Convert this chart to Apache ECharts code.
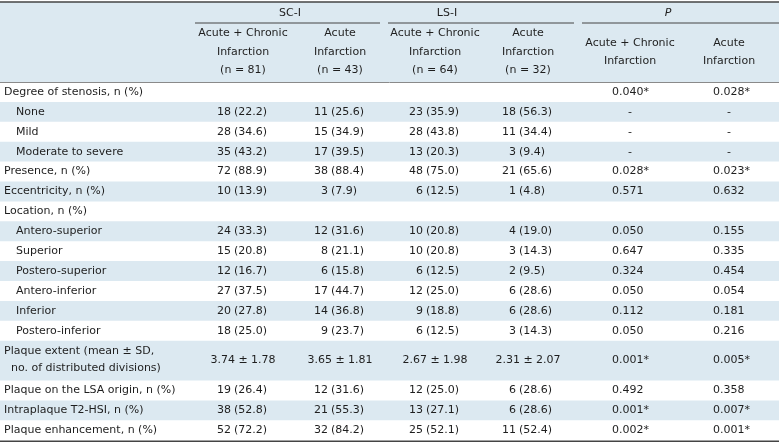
<!DOCTYPE html>
<html><head><meta charset="utf-8">
<script src="https://cdn.jsdelivr.net/npm/echarts@6/dist/echarts.min.js"></script>
<style>html,body{margin:0;padding:0;background:#fff}#c{width:779px;height:445px}</style>
</head><body><div id="c"></div><script>
// ---- table content ----
const groupLabels = ['SC-I', 'LS-I', 'P'];
const subHeaders = [
  ['Acute + Chronic', 'Infarction', '(n = 81)'],
  ['Acute', 'Infarction', '(n = 43)'],
  ['Acute + Chronic', 'Infarction', '(n = 64)'],
  ['Acute', 'Infarction', '(n = 32)'],
  ['Acute + Chronic', 'Infarction'],
  ['Acute', 'Infarction']
];
const rowLabels = [
  'Degree of stenosis, n (%)', 'None', 'Mild', 'Moderate to severe',
  'Presence, n (%)', 'Eccentricity, n (%)', 'Location, n (%)',
  'Antero-superior', 'Superior', 'Postero-superior', 'Antero-inferior', 'Inferior', 'Postero-inferior',
  'Plaque extent (mean \u00b1 SD,\nno. of distributed divisions)',
  'Plaque on the LSA origin, n (%)', 'Intraplaque T2-HSI, n (%)', 'Plaque enhancement, n (%)'
];
const rowIsSub = [0,1,1,1,0,0,0,1,1,1,1,1,1,0,0,0,0];
const rowSpan  = [1,1,1,1,1,1,1,1,1,1,1,1,1,2,1,1,1];
const scAcuteChronic = ['', '18 (22.2)', '28 (34.6)', '35 (43.2)', '72 (88.9)', '10 (13.9)', '', '24 (33.3)', '15 (20.8)', '12 (16.7)', '27 (37.5)', '20 (27.8)', '18 (25.0)', '3.74 \u00b1 1.78', '19 (26.4)', '38 (52.8)', '52 (72.2)'];
const scAcute        = ['', '11 (25.6)', '15 (34.9)', '17 (39.5)', '38 (88.4)', '3 (7.9)', '', '12 (31.6)', '8 (21.1)', '6 (15.8)', '17 (44.7)', '14 (36.8)', '9 (23.7)', '3.65 \u00b1 1.81', '12 (31.6)', '21 (55.3)', '32 (84.2)'];
const lsAcuteChronic = ['', '23 (35.9)', '28 (43.8)', '13 (20.3)', '48 (75.0)', '6 (12.5)', '', '10 (20.8)', '10 (20.8)', '6 (12.5)', '12 (25.0)', '9 (18.8)', '6 (12.5)', '2.67 \u00b1 1.98', '12 (25.0)', '13 (27.1)', '25 (52.1)'];
const lsAcute        = ['', '18 (56.3)', '11 (34.4)', '3 (9.4)', '21 (65.6)', '1 (4.8)', '', '4 (19.0)', '3 (14.3)', '2 (9.5)', '6 (28.6)', '6 (28.6)', '3 (14.3)', '2.31 \u00b1 2.07', '6 (28.6)', '6 (28.6)', '11 (52.4)'];
const pAcuteChronic  = ['0.040*', '-', '-', '-', '0.028*', '0.571', '', '0.050', '0.647', '0.324', '0.050', '0.112', '0.050', '0.001*', '0.492', '0.001*', '0.002*'];
const pAcute         = ['0.028*', '-', '-', '-', '0.023*', '0.632', '', '0.155', '0.335', '0.454', '0.054', '0.181', '0.216', '0.005*', '0.358', '0.007*', '0.001*'];

// ---- layout / style ----
const W = 779, H = 445;
const FONT_FAMILY = 'DejaVu Sans';
const FS = 11;
const FONT = FS + 'px "' + FONT_FAMILY + '"';
const TXT = '#1e1e1e';
const BAND = '#dce9f1';
const colCenters = [243, 340, 435, 528, 630, 729];
const pLeft = [612, 713];
const groupLineSpans = [[195, 380], [388, 574], [582, 779]];
const groupLabelX = [290, 447, 668];
const BODY_TOP = 82, ROW_H = 19.9;

const valueCols = [scAcuteChronic, scAcute, lsAcuteChronic, lsAcute];
const pCols = [pAcuteChronic, pAcute];

const starts = [];
let acc = 0;
rowSpan.forEach(s => { starts.push(acc); acc += s; });
const totalUnits = acc;

function txt(x, y, text, align, font) {
  return {
    type: 'text',
    style: {
      x: x, y: y, text: text, fill: TXT, font: font || FONT,
      align: align || 'left', textAlign: align || 'left',
      verticalAlign: 'middle', textVerticalAlign: 'middle'
    },
    silent: true
  };
}

function renderItem(params, api) {
  const s = api.value(0), sp = api.value(1), i = api.value(2);
  const p0 = api.coord([0, s]);
  const p1 = api.coord([W, s + sp]);
  const yMid = (p0[1] + p1[1]) / 2;
  const children = [];
  if (i % 2 === 1) {
    children.push({ type: 'rect', shape: { x: p0[0], y: p0[1], width: p1[0] - p0[0], height: p1[1] - p0[1] }, style: { fill: BAND }, silent: true });
  }
  const lines = rowLabels[i].split('\n');
  if (lines.length === 1) {
    children.push(txt(rowIsSub[i] ? 16 : 4, yMid, lines[0], 'left'));
  } else {
    children.push(txt(4, yMid - 9, lines[0], 'left'));
    children.push(txt(11, yMid + 8, lines[1], 'left'));
  }
  valueCols.forEach((col, c) => {
    const v = col[i];
    if (!v) return;
    const cx = colCenters[c];
    const m = v.match(/^(\S+) (\(.*\))$/);
    if (m) {
      children.push(txt(cx - 12, yMid, m[1], 'right'));
      children.push(txt(cx - 9, yMid, m[2], 'left'));
    } else {
      children.push(txt(cx, yMid, v, 'center'));
    }
  });
  pCols.forEach((col, c) => {
    const v = col[i];
    if (!v) return;
    if (v === '-') children.push(txt(colCenters[4 + c], yMid, v, 'center'));
    else children.push(txt(pLeft[c], yMid, v, 'left'));
  });
  return { type: 'group', children: children };
}

// header graphics
const header = [];
header.push({ type: 'rect', shape: { x: 0, y: 2, width: W, height: BODY_TOP - 2 }, style: { fill: BAND }, silent: true });
header.push({ type: 'line', shape: { x1: 0, y1: 2, x2: W, y2: 2 }, style: { stroke: '#444', lineWidth: 1.6 }, silent: true });
header.push({ type: 'line', shape: { x1: 0, y1: BODY_TOP + 0.5, x2: W, y2: BODY_TOP + 0.5 }, style: { stroke: '#8a8a8a', lineWidth: 1 }, silent: true });
groupLabels.forEach((g, k) => {
  header.push(txt(groupLabelX[k], 13, g, 'center', k === 2 ? 'italic ' + FONT : FONT));
  const sp = groupLineSpans[k];
  header.push({ type: 'line', shape: { x1: sp[0], y1: 23, x2: sp[1], y2: 23 }, style: { stroke: '#444', lineWidth: 1 }, silent: true });
});
subHeaders.forEach((lines, c) => {
  const ys = lines.length === 3 ? [33.5, 52, 70.5] : [43, 61.5];
  lines.forEach((l, j) => header.push(txt(colCenters[c], ys[j], l, 'center')));
});

const bodyBottom = BODY_TOP + totalUnits * ROW_H;
header.push({ type: 'line', shape: { x1: 0, y1: bodyBottom + 1, x2: W, y2: bodyBottom + 1 }, style: { stroke: '#444', lineWidth: 1.6 }, silent: true });

const chart = echarts.init(document.getElementById('c'), null, { renderer: 'canvas', width: W, height: H });
chart.setOption({
  animation: false,
  backgroundColor: '#fff',
  grid: { left: 0, right: 0, top: BODY_TOP, height: totalUnits * ROW_H, containLabel: false },
  xAxis: { type: 'value', min: 0, max: W, show: false },
  yAxis: { type: 'value', min: 0, max: totalUnits, inverse: true, show: false },
  series: [{
    type: 'custom',
    renderItem: renderItem,
    clip: false,
    encode: { x: 2, y: 0 },
    data: rowLabels.map((_, i) => [starts[i], rowSpan[i], i])
  }],
  graphic: { elements: header }
});
</script></body></html>
